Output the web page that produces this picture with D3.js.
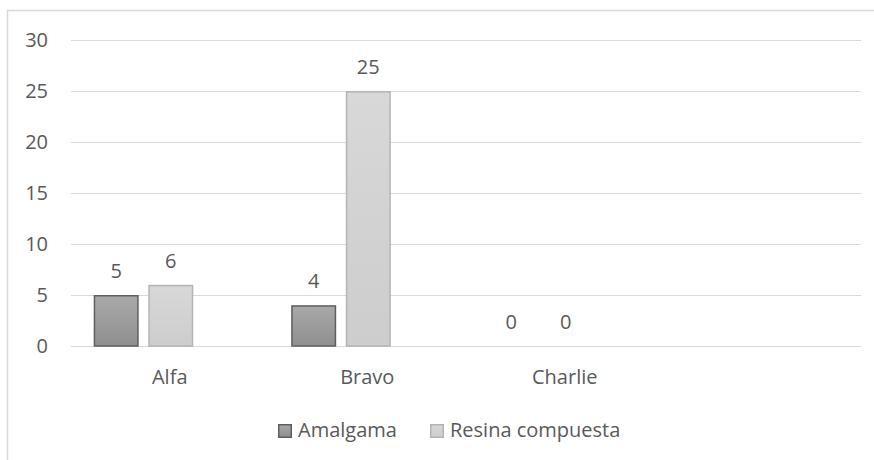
<!DOCTYPE html>
<html>
<head>
<meta charset="utf-8">
<script src="https://cdn.jsdelivr.net/npm/d3@7"></script>
<style>
  html, body { margin: 0; padding: 0; background: #ffffff; }
  svg { display: block; }
  text { font-family: "Open Sans", "Liberation Sans", sans-serif; fill: #595959; }
</style>
</head>
<body>
<svg id="chart" width="874" height="460"></svg>
<script>
// Categories (the last, unnamed one is an empty slot on the axis)
const categories = ["Alfa", "Bravo", "Charlie", ""];
// Series
const seriesNames = ["Amalgama", "Resina compuesta"];
const amalgama = [5, 4, 0];
const resina = [6, 25, 0];
// Value axis ticks
const yTicks = [0, 5, 10, 15, 20, 25, 30];

const seriesValues = [amalgama, resina];

const svg = d3.select("#chart");
const W = 874, H = 460;

// Outer chart frame
svg.append("rect")
  .attr("x", 7.5).attr("y", 10.5)
  .attr("width", W + 10).attr("height", H + 10)
  .attr("fill", "#ffffff")
  .attr("stroke", "#d9d9d9").attr("stroke-width", 1.5);

const plot = { left: 71, right: 861, top: 40, bottom: 346 };

const x = d3.scaleBand()
  .domain(categories)
  .range([plot.left, plot.right])
  .paddingInner(0).paddingOuter(0);

// Three slots per category: two series plus a vacant slot
const slotCount = 3;
const x1 = d3.scaleBand()
  .domain(d3.range(slotCount))
  .range([22.7, 176.9])
  .paddingInner(0.176).paddingOuter(0);

const y = d3.scaleLinear().domain([0, 30]).range([plot.bottom, plot.top]);

// Gridlines
svg.append("g")
  .selectAll("line")
  .data(yTicks)
  .join("line")
  .attr("x1", plot.left).attr("x2", plot.right)
  .attr("y1", d => Math.round(y(d)) + 0.5)
  .attr("y2", d => Math.round(y(d)) + 0.5)
  .attr("stroke", "#d9d9d9").attr("stroke-width", 1);

// Y axis labels
svg.append("g")
  .selectAll("text")
  .data(yTicks)
  .join("text")
  .attr("x", 48)
  .attr("y", d => y(d))
  .attr("dy", "0.36em")
  .attr("text-anchor", "end")
  .attr("font-size", 20)
  .text(d => d);

// Bar fills
const defs = svg.append("defs");
const gradA = defs.append("linearGradient").attr("id", "gA")
  .attr("x1", 0).attr("y1", 0).attr("x2", 0).attr("y2", 1);
gradA.append("stop").attr("offset", "0%").attr("stop-color", "#a9a9a9");
gradA.append("stop").attr("offset", "100%").attr("stop-color", "#8f8f8f");
const gradB = defs.append("linearGradient").attr("id", "gB")
  .attr("x1", 0).attr("y1", 0).attr("x2", 0).attr("y2", 1);
gradB.append("stop").attr("offset", "0%").attr("stop-color", "#d8d8d8");
gradB.append("stop").attr("offset", "100%").attr("stop-color", "#cdcdcd");

const styles = [
  { fill: "url(#gA)", stroke: "#5e5e5e" },
  { fill: "url(#gB)", stroke: "#b3b3b3" }
];

const bars = [];
seriesValues.forEach((vals, si) => {
  vals.forEach((v, ci) => bars.push({ si, cat: categories[ci], v }));
});

// Bars
svg.append("g")
  .selectAll("rect")
  .data(bars.filter(d => d.v > 0))
  .join("rect")
  .attr("x", d => x(d.cat) + x1(d.si) + 0.75)
  .attr("y", d => y(d.v) + 0.75)
  .attr("width", x1.bandwidth() - 1.5)
  .attr("height", d => y(0) - y(d.v) - 0.75)
  .attr("fill", d => styles[d.si].fill)
  .attr("stroke", d => styles[d.si].stroke)
  .attr("stroke-width", 1.5);

// Data labels
svg.append("g")
  .selectAll("text")
  .data(bars)
  .join("text")
  .attr("x", d => x(d.cat) + x1(d.si) + x1.bandwidth() / 2)
  .attr("y", d => y(d.v) - 17)
  .attr("text-anchor", "middle")
  .attr("font-size", 20)
  .text(d => d.v);

// Category labels
svg.append("g")
  .selectAll("text")
  .data(categories.filter(c => c !== ""))
  .join("text")
  .attr("x", d => x(d) + x.bandwidth() / 2)
  .attr("y", 384)
  .attr("text-anchor", "middle")
  .attr("font-size", 20)
  .text(d => d);

// Legend
const legendX = [278, 430];
const legend = svg.append("g")
  .selectAll("g")
  .data(seriesNames)
  .join("g")
  .attr("transform", (d, i) => `translate(${legendX[i]},424)`);
legend.append("rect")
  .attr("x", 0.75).attr("y", 0.75)
  .attr("width", 12.5).attr("height", 12.5)
  .attr("fill", (d, i) => styles[i].fill)
  .attr("stroke", (d, i) => styles[i].stroke)
  .attr("stroke-width", 1.5);
legend.append("text")
  .attr("x", 20).attr("y", 13)
  .attr("font-size", 20)
  .text(d => d);
</script>
</body>
</html>
